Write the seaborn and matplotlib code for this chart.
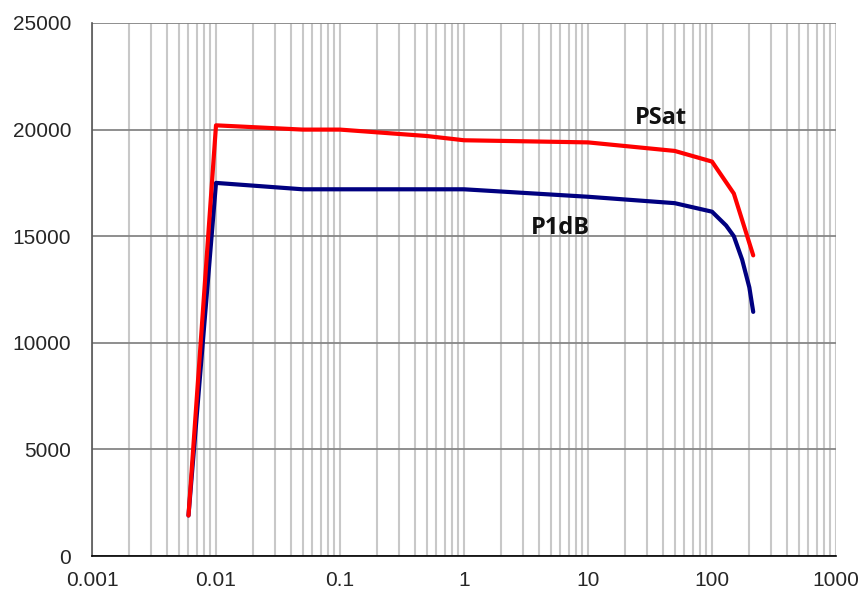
import numpy as np
import pandas as pd
import matplotlib
matplotlib.use("Agg")
import matplotlib.pyplot as plt
import seaborn as sns
from matplotlib.ticker import LogLocator, FixedLocator, FixedFormatter

# values
psat_x = [0.006, 0.01, 0.05, 0.1, 0.5, 1, 10, 50, 100, 150, 215]
psat_y = [1900, 20200, 20000, 20000, 19700, 19500, 19400, 19000, 18500, 17000, 14100]

p1db_x = [0.006, 0.01, 0.05, 1, 10, 50, 100, 130, 150, 175, 200, 215]
p1db_y = [1900, 17500, 17200, 17200, 16850, 16550, 16150, 15500, 15000, 13900, 12600, 11450]

x_ticks = [0.001, 0.01, 0.1, 1, 10, 100, 1000]
x_tick_labels = ["0.001", "0.01", "0.1", "1", "10", "100", "1000"]
y_ticks = [0, 5000, 10000, 15000, 20000, 25000]

df = pd.concat([
    pd.DataFrame({"x": p1db_x, "y": p1db_y, "series": "P1dB"}),
    pd.DataFrame({"x": psat_x, "y": psat_y, "series": "PSat"}),
])

sns.set_style("white")
plt.rcParams["font.family"] = ["Liberation Sans", "DejaVu Sans"]

fig = plt.figure(figsize=(8.61, 5.92), dpi=100)
ax = fig.add_axes([92 / 861, 1 - 556 / 592, (836 - 92) / 861, (556 - 23) / 592])

sns.lineplot(data=df, x="x", y="y", hue="series", hue_order=["P1dB", "PSat"],
             palette={"P1dB": "#000080", "PSat": "#ff0000"}, linewidth=3,
             sort=False, estimator=None, legend=False, ax=ax)

ax.set_xscale("log")
ax.set_xlim(0.001, 1000)
ax.set_ylim(0, 25000)

ax.xaxis.set_major_locator(FixedLocator(x_ticks))
ax.xaxis.set_major_formatter(FixedFormatter(x_tick_labels))
ax.xaxis.set_minor_locator(LogLocator(base=10, subs=np.arange(2, 10), numticks=20))
ax.set_yticks(y_ticks)
ax.set_yticklabels([str(v) for v in y_ticks])

ax.grid(True, axis="x", which="both", color="#c8c8c8", linewidth=1.5)
ax.grid(True, axis="y", which="major", color="#868686", linewidth=1.3)
ax.set_axisbelow(True)

for s in ["top", "right"]:
    ax.spines[s].set_visible(False)
ax.spines["left"].set_color("#555555")
ax.spines["bottom"].set_color("#000000")
ax.spines["left"].set_linewidth(1.2)
ax.spines["bottom"].set_linewidth(1.2)

ax.tick_params(axis="both", which="major", direction="out", length=5, width=1,
               labelsize=15, color="#333333")
ax.tick_params(axis="y", pad=10)
ax.tick_params(axis="x", pad=6)
ax.tick_params(axis="x", which="minor", length=0)
ax.set_xlabel("")
ax.set_ylabel("")

ax.text(39, 20560, "PSat", fontsize=17, fontweight="bold", family="Open Sans",
        ha="center", va="center", color="#111111")
ax.text(6.0, 15400, "P1dB", fontsize=17, fontweight="bold", family="Open Sans",
        ha="center", va="center", color="#111111")

fig.savefig("out.png", dpi=100)
